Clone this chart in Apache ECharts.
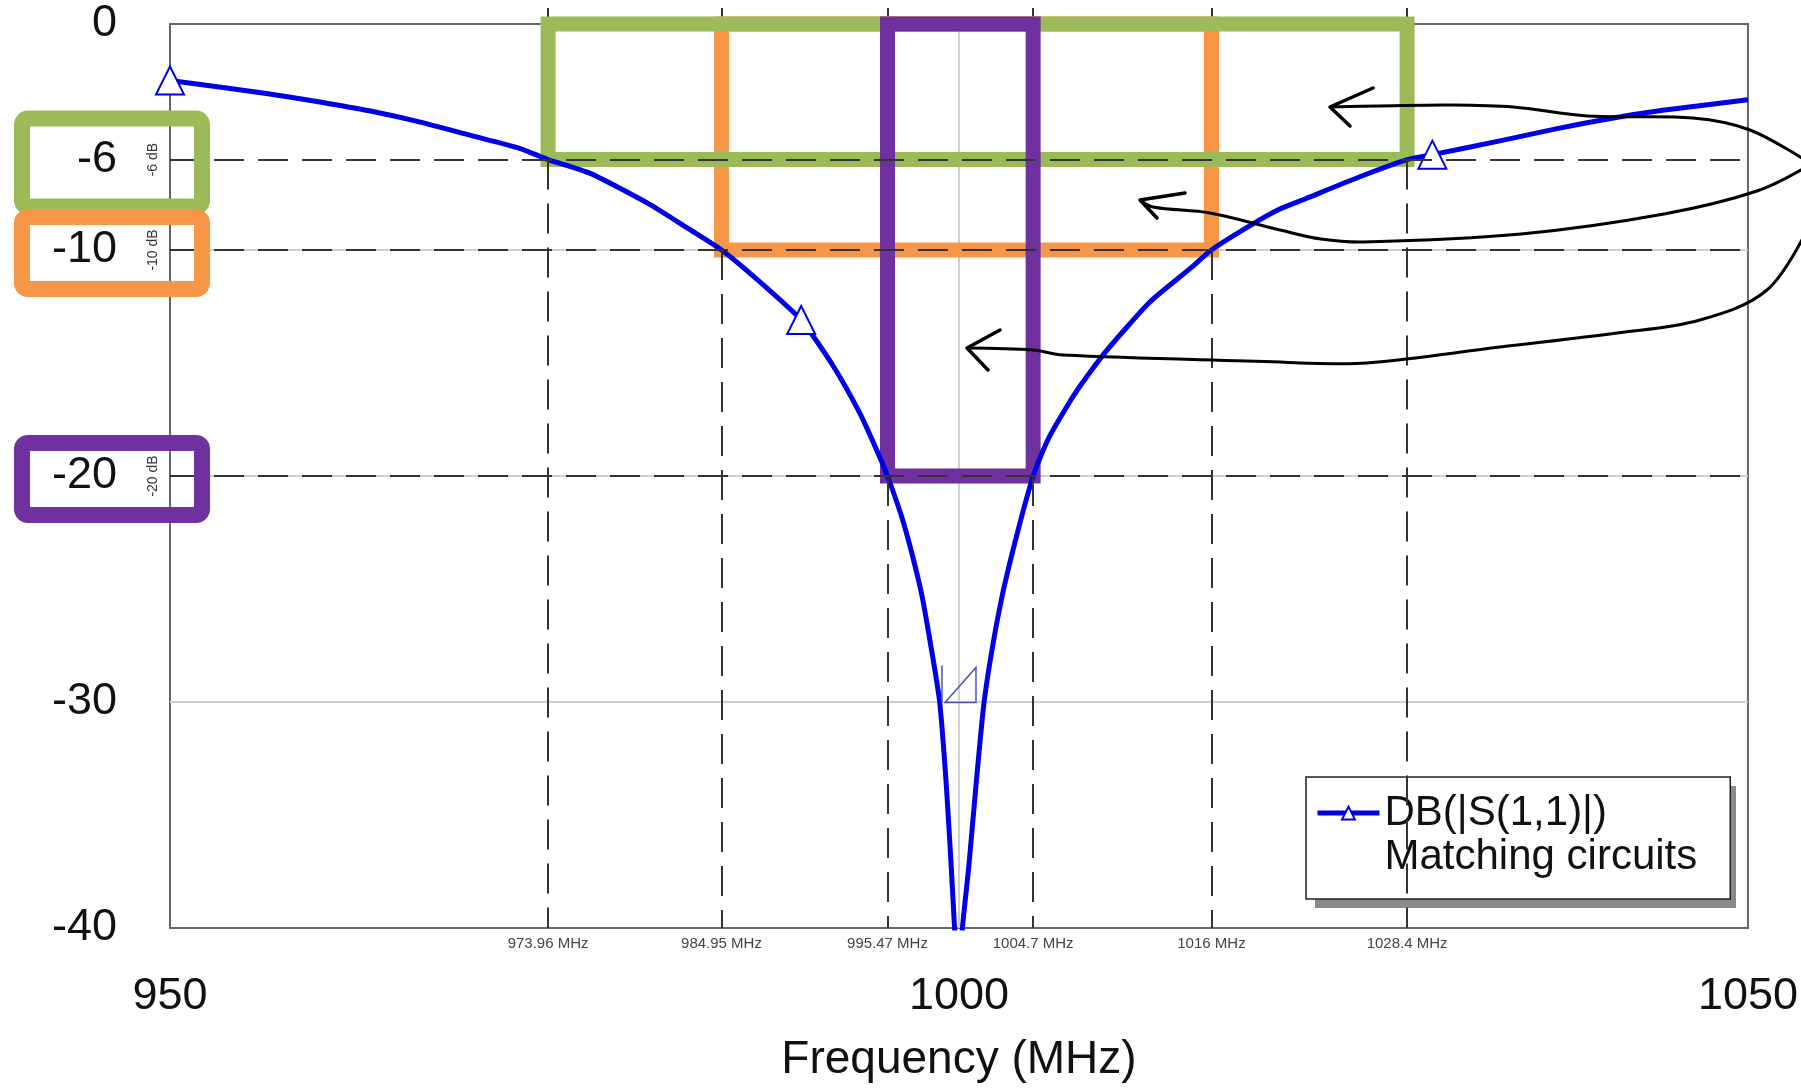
<!DOCTYPE html>
<html>
<head>
<meta charset="utf-8">
<script src="https://cdn.jsdelivr.net/npm/echarts@6/dist/echarts.min.js"></script>
<style>
  html, body { margin: 0; padding: 0; background: #fff; }
  #chart { width: 1801px; height: 1088px; }
</style>
</head>
<body>
<div id="chart"></div>
<script>
// S11 (MHz, dB)
const freq = [950, 953, 956, 959.5, 962.7, 965.8, 969, 972.2, 973.96, 976.6, 980.4, 982.9, 984.95, 987.2, 990, 992, 993.7, 994.75, 995.47, 996.5, 997.5, 997.92, 998.76, 999.19, 999.51, 999.72, 1000, 1000.22, 1000.62, 1001.09, 1001.61, 1002.45, 1003.2, 1004.7, 1005.7, 1007.4, 1009.3, 1012.1, 1014.6, 1016, 1018.5, 1020.3, 1022, 1025.4, 1028.4, 1030, 1034.5, 1037.9, 1041.2, 1044.6, 1050];
const s11 = [-2.5, -2.78, -3.06, -3.45, -3.85, -4.33, -4.92, -5.51, -6.0, -6.6, -7.98, -9.08, -10.0, -11.3, -13.1, -15.1, -17.2, -18.8, -20.0, -22.1, -24.8, -26.3, -29.9, -33.6, -37.3, -40.0, -43.0, -40.0, -37.3, -33.6, -29.9, -26.3, -23.9, -20.0, -18.3, -16.3, -14.5, -12.3, -10.85, -10.0, -8.9, -8.2, -7.72, -6.76, -6.0, -5.78, -5.14, -4.63, -4.19, -3.82, -3.35];
const markerFreqs = [950, 990, 1030];

const xLabels = [950, 1000, 1050];
const yLabels = [0, -6, -10, -20, -30, -40];
const levels = [-6, -10, -20];
const lowerEdges = [973.96, 984.95, 995.47];
const upperEdges = [1028.4, 1016, 1004.7];
const edgeLabels = [973.96, 984.95, 995.47, 1004.7, 1016, 1028.4];
const boxColors = ['#9bbb59', '#f79646', '#7030a0'];

const seriesName = 'DB(|S(1,1)|)\nMatching circuits';
const FONT = '"Liberation Sans", Arial, sans-serif';
const BLUE = '#0000e6';

const chart = echarts.init(document.getElementById('chart'));

// dashed -6/-10/-20 guides
const guides = [];
levels.forEach((lv, i) => {
  guides.push([{ coord: [950, lv] }, { coord: [1050, lv] }]);
  guides.push([{ coord: [lowerEdges[i], lv] }, { coord: [lowerEdges[i], -40] }]);
  guides.push([{ coord: [upperEdges[i], lv] }, { coord: [upperEdges[i], -40] }]);
});

// coloured bandwidth boxes, orange under green under purple
const boxes = [1, 0, 2].map(i => [
  { coord: [lowerEdges[i], 0], itemStyle: { borderColor: boxColors[i] } },
  { coord: [upperEdges[i], levels[i]] }
]);

const option = {
  animation: false,
  backgroundColor: '#fff',
  textStyle: { fontFamily: FONT },
  grid: {
    left: 170, top: 24, right: 52, bottom: 157,
    show: true, borderColor: '#666', borderWidth: 2
  },
  legend: {
    data: [seriesName],
    left: 1306, top: 777,
    itemWidth: 62, itemHeight: 16,
    padding: [15, 33, 21, 9],
    backgroundColor: '#fff',
    borderColor: '#222', borderWidth: 1.5,
    selectedMode: false,
    lineStyle: { width: 5 },
    itemStyle: { borderWidth: 3 },
    formatter: name => name.split('\n').map(s => '{t|' + s + '}').join('\n'),
    textStyle: {
      padding: [44, 0, 0, 0],
      rich: { t: { fontSize: 42, lineHeight: 44, fontFamily: FONT, color: '#111' } }
    }
  },
  xAxis: [
    {
      type: 'value', min: 950, max: 1050, interval: 50,
      axisLine: { show: false }, axisTick: { show: false },
      splitLine: { show: true, showMinLine: false, showMaxLine: false, lineStyle: { color: '#cfcfcf', width: 2 } },
      axisLabel: { customValues: xLabels, formatter: v => String(v), fontSize: 45, margin: 46, color: '#111', fontFamily: FONT },
      name: 'Frequency (MHz)', nameLocation: 'middle', nameGap: 109,
      nameTextStyle: { fontSize: 46, color: '#111', fontFamily: FONT }
    },
    {
      type: 'value', min: 950, max: 1050, position: 'bottom',
      axisLine: { show: false }, splitLine: { show: false },
      axisTick: { show: true, inside: true, length: 16, customValues: edgeLabels, lineStyle: { color: '#333', width: 2 } },
      axisLabel: { customValues: edgeLabels, formatter: v => v + ' MHz', fontSize: 15, margin: 8, color: '#444', fontFamily: FONT }
    }
  ],
  yAxis: [
    {
      type: 'value', min: -40, max: 0, interval: 10,
      axisLine: { show: false }, axisTick: { show: false },
      splitLine: { show: true, showMinLine: false, showMaxLine: false, lineStyle: { color: '#cfcfcf', width: 2 } },
      axisLabel: { customValues: yLabels, formatter: v => String(v), fontSize: 45, margin: 53, color: '#111', fontFamily: FONT }
    },
    {
      type: 'value', min: -40, max: 0, position: 'left',
      axisLine: { show: false }, axisTick: { show: false }, splitLine: { show: false },
      axisLabel: { customValues: levels, formatter: v => v + ' dB', rotate: 90, margin: 10, fontSize: 14, color: '#333', fontFamily: FONT }
    }
  ],
  series: [
    {
      name: seriesName,
      type: 'line',
      xAxisIndex: 0, yAxisIndex: 0,
      z: 3,
      smooth: 0.2,
      symbol: 'emptyTriangle',
      symbolSize: 28,
      showAllSymbol: true,
      lineStyle: { color: BLUE, width: 5 },
      itemStyle: { color: BLUE, borderWidth: 4 },
      data: freq.map((f, i) => markerFreqs.includes(f)
        ? [f, s11[i]]
        : { value: [f, s11[i]], symbol: 'none' }),
      markLine: {
        silent: true,
        symbol: ['none', 'none'],
        label: { show: false },
        lineStyle: { color: '#333', width: 2, type: [30, 14] },
        data: guides
      },
      markPoint: {
        silent: true,
        symbol: 'path://M0,0 L0,36 M3,36 L33,2 L33,36 Z',
        symbolSize: [34, 37],
        symbolOffset: [0, -18],
        label: { show: false },
        itemStyle: { color: 'rgba(0,0,0,0)', borderColor: '#4b4bb0', borderWidth: 1.5 },
        data: [{ coord: [1000, -30] }]
      }
    },
    {
      name: 'bands',
      type: 'line',
      z: 5,
      data: [],
      markArea: {
        silent: true,
        label: { show: false },
        itemStyle: { color: 'rgba(0,0,0,0)', borderWidth: 15 },
        data: boxes
      }
    }
  ]
};

chart.setOption(option);

// hand-drawn overlay: boxes round the y labels, legend shadow and the three arrows
const overlay = [];
levels.forEach((lv, i) => {
  const y = chart.convertToPixel({ yAxisIndex: 0 }, lv);
  const half = i === 0 ? 44 : 36;
  overlay.push({
    type: 'rect', z: 20, silent: true,
    shape: { x: 22, y: y + 3 - half, width: 180, height: half * 2, r: 6 },
    style: { fill: 'none', stroke: boxColors[i], lineWidth: 16 }
  });
});
overlay.push({
  type: 'rect', z: 3.5, silent: true,
  shape: { x: 1315, y: 786, width: 421, height: 122 },
  style: { fill: '#8a8a8a' }
});
const arrows = [
  { line: [[1330, 107], [1380, 106], [1450, 105], [1513, 107], [1587, 116], [1693, 118], [1750, 130], [1808, 162]],
    head: [[1373, 88], [1330, 107], [1350, 126]] },
  { line: [[1808, 166], [1757, 191], [1664, 214], [1521, 234], [1364, 242], [1321, 239], [1280, 230], [1210, 213], [1153, 207], [1140, 200]],
    head: [[1185, 193], [1140, 200], [1157, 218]] },
  { line: [[1808, 228], [1767, 290], [1700, 320], [1617, 333], [1500, 347], [1367, 363], [1300, 363], [1280, 362], [1063, 355], [1033, 350], [967, 348]],
    head: [[1000, 330], [967, 348], [988, 370]] }
];
arrows.forEach(a => {
  overlay.push({
    type: 'polyline', z: 20, silent: true,
    shape: { points: a.line, smooth: 0.35 },
    style: { fill: 'none', stroke: '#000', lineWidth: 3 }
  });
  overlay.push({
    type: 'polyline', z: 20, silent: true,
    shape: { points: a.head },
    style: { fill: 'none', stroke: '#000', lineWidth: 3.5, lineJoin: 'round', lineCap: 'round' }
  });
});
chart.setOption({ graphic: overlay });
</script>
</body>
</html>
